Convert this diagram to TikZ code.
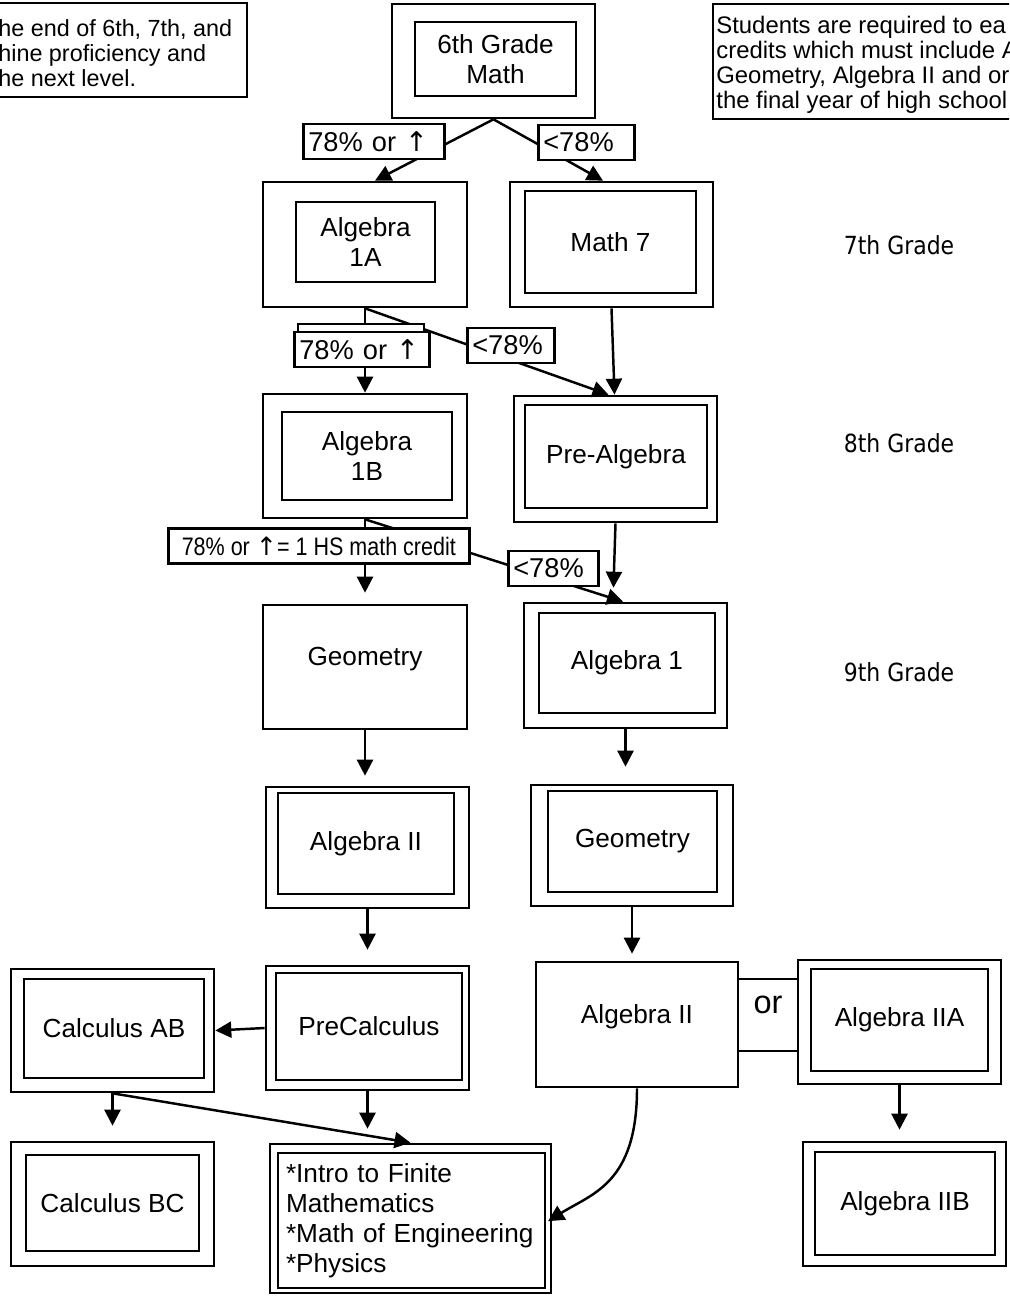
\documentclass[tikz,border=0pt]{standalone}
\usepackage{fontspec}
\setmainfont{Liberation Sans}
\newfontfamily\narrowfont[FakeStretch=0.85]{Liberation Sans}
\newfontfamily\gradefont[FakeStretch=0.88]{DejaVu Sans}
\newfontfamily\arrowfont{DejaVu Sans}
\newcommand{\uparr}{{\arrowfont ↑}}
\usetikzlibrary{arrows.meta,calc,fit}

\begin{document}
\begin{tikzpicture}[x=0.02cm,y=-0.02cm,
  outbox/.style={draw,line width=1.5pt,inner sep=0pt},
  inbox/.style={draw,line width=1.5pt,inner sep=0pt,align=center,font=\fontsize{14.9}{17}\selectfont},
  onebox/.style={inbox,text depth=0.42cm},
  lbl/.style={draw,line width=1.5pt,fill=white,anchor=west,align=left,inner xsep=0.1cm,inner ysep=0pt,minimum height=0.7cm,font=\fontsize{15.5}{17}\selectfont},
  conn/.style={line width=1.4pt,-{Triangle[length=0.32cm,width=0.32cm]}},
  grade/.style={font=\gradefont\fontsize{14.2}{17}\selectfont},
  note/.style={draw,line width=1.5pt,inner sep=0pt}]
\useasboundingbox (0,0) rectangle (1009,1297);
\clip (0,0) rectangle (1009,1297);

\node[note,fit={(-20,3) (247,97)}] (tlnote) {};
\node[font=\fontsize{13.3}{14.2}\selectfont,align=left,anchor=west,inner sep=0pt] (tltext) at (-2,53) {he end of 6th, 7th, and\\hine proficiency and\\he next level.};
\node[note,fit={(713,4) (1030,119)}] (trnote) {};
\node[font=\fontsize{13.6}{14.2}\selectfont,align=left,anchor=west,inner sep=0pt] (trtext) at (716,64.5) {Students are required to ea\\credits which must include A\\Geometry, Algebra II and or\\the final year of high school};

\node[outbox,fit={(392,4) (595,118)}] (sixth) {};
\node[inbox,minimum width=3.22cm,minimum height=1.48cm] (sixthin) at (495.5,59) {6th Grade\\Math};
\node[outbox,fit={(263,182) (467,307)}] (alg1a) {};
\node[inbox,minimum width=2.78cm,minimum height=1.6cm] (alg1ain) at (365.5,242) {Algebra\\1A};
\node[outbox,fit={(510,182) (713,307)}] (math7) {};
\node[inbox,minimum width=3.42cm,minimum height=2.04cm] (math7in) at (610.5,242) {Math 7};
\node[outbox,fit={(263,394) (467,518)}] (alg1b) {};
\node[inbox,minimum width=3.4cm,minimum height=1.76cm] (alg1bin) at (367,456) {Algebra\\1B};
\node[outbox,fit={(514,396) (717,522)}] (prealg) {};
\node[inbox,minimum width=3.64cm,minimum height=2.06cm] (prealgin) at (616,456.5) {Pre-Algebra};
\node[onebox,minimum width=4.08cm,minimum height=2.48cm] (geoL) at (365,667) {Geometry};
\node[outbox,fit={(524,603) (727,728)}] (alg1) {};
\node[inbox,minimum width=3.52cm,minimum height=2cm] (alg1in) at (627,663) {Algebra 1};
\node[outbox,fit={(266,787) (469,908)}] (alg2L) {};
\node[inbox,minimum width=3.52cm,minimum height=2.02cm] (alg2Lin) at (366,843.5) {Algebra II};
\node[outbox,fit={(531,785) (733,906)}] (geoR) {};
\node[inbox,minimum width=3.38cm,minimum height=2.02cm] (geoRin) at (632.5,841.5) {Geometry};
\node[outbox,fit={(266,966) (469,1090)}] (precalc) {};
\node[inbox,minimum width=3.72cm,minimum height=2.14cm] (precalcin) at (369,1026.5) {PreCalculus};
\node[outbox,fit={(11,969) (214,1092)}] (calcAB) {};
\node[inbox,minimum width=3.6cm,minimum height=1.98cm] (calcABin) at (114,1028.5) {Calculus AB};
\node[outbox,fit={(11,1142) (214,1266)}] (calcBC) {};
\node[inbox,minimum width=3.46cm,minimum height=1.92cm] (calcBCin) at (112.5,1203) {Calculus BC};
\node[outbox,fit={(270,1144) (551,1293)}] (intro) {};
\node[inbox,align=left,text width=5.02cm,inner xsep=0.16cm,minimum height=2.7cm] (introin) at (411.5,1220.5) {*Intro to Finite\\Mathematics\\{}*Math of Engineering\\{}*Physics};
\node[onebox,minimum width=4.04cm,minimum height=2.5cm] (alg2R) at (637,1024.5) {Algebra II};
\node[onebox,minimum width=1.2cm,minimum height=1.44cm,font=\fontsize{18.5}{20}\selectfont] (orbox) at (768,1015) {or};
\node[outbox,fit={(798,960) (1001,1084)}] (alg2A) {};
\node[inbox,minimum width=3.54cm,minimum height=2.04cm] (alg2Ain) at (899.5,1020) {Algebra IIA};
\node[outbox,fit={(803,1142) (1006,1266)}] (alg2B) {};
\node[inbox,minimum width=3.6cm,minimum height=2.06cm] (alg2Bin) at (905,1203.5) {Algebra IIB};

\node[grade] (g7) at (899,245) {7th Grade};
\node[grade] (g8) at (899,443) {8th Grade};
\node[grade] (g9) at (899,672) {9th Grade};

\draw[conn] (sixth.south) -- ($(alg1a.north)+(10,0)$);
\draw[conn] (sixth.south) -- ($(math7.north)+(-8.5,0)$);
\draw[conn] (alg1a.south) -- (alg1b.north);
\draw[conn] (alg1a.south) -- ($(prealg.north)+(-7,0)$);
\draw[conn] (math7.south) -- ($(prealg.north)+(-1,0)$);
\draw[conn,shorten >=0.22cm] (alg1b.south) -- (geoL.north);
\draw[conn] (alg1b.south) -- ($(alg1.north)+(-2.5,0)$);
\draw[conn,shorten >=0.28cm] (prealg.south) -- ($(alg1.north)+(-12.5,0)$);
\draw[conn,shorten >=0.2cm] (geoL.south) -- (geoL.south |- alg2L.north);
\draw[conn,shorten >=0.34cm] (alg1.south) -- (alg1.south |- geoR.north);
\draw[conn,shorten >=0.3cm] (alg2L.south) -- (precalc.north);
\draw[conn,shorten >=0.14cm] (geoR.south) -- (geoR.south |- alg2R.north);
\draw[conn] (precalc.west) -- (calcAB.east);
\draw[conn,shorten >=0.3cm] (calcAB.south) -- (calcBC.north);
\draw[conn] (calcAB.south) -- (intro.north);
\draw[conn,shorten >=0.28cm] (precalc.south) -- (precalc.south |- intro.north);
\draw[conn,shorten >=-0.1cm] (alg2R.south) .. controls +(0,95) and +(40,-25) .. (intro.east);
\draw[conn,shorten >=0.22cm] (alg2A.south) -- (alg2A.south |- alg2B.north);

\node[lbl,text width=2.62cm] (pass1) at (302,141.5) {78\% or \uparr};
\node[lbl,text width=1.72cm] (fail1) at (537,142.5) {<78\%};
\node[draw,line width=1.5pt,fill=white,inner sep=0pt,fit={(298,324) (424,332)}] (pass2top) {};
\node[lbl,text width=2.5cm] (pass2) at (293,349.5) {78\% or \uparr};
\node[lbl,text width=1.54cm] (fail2) at (466,345.5) {<78\%};
\node[lbl,minimum width=6.02cm,inner xsep=0pt,font=\narrowfont\fontsize{14.4}{17}\selectfont] (pass3) at (167,546) {78\% or \uparr= 1 HS math credit};
\node[lbl,text width=1.6cm] (fail3) at (507,568.5) {<78\%};
\end{tikzpicture}
\end{document}
